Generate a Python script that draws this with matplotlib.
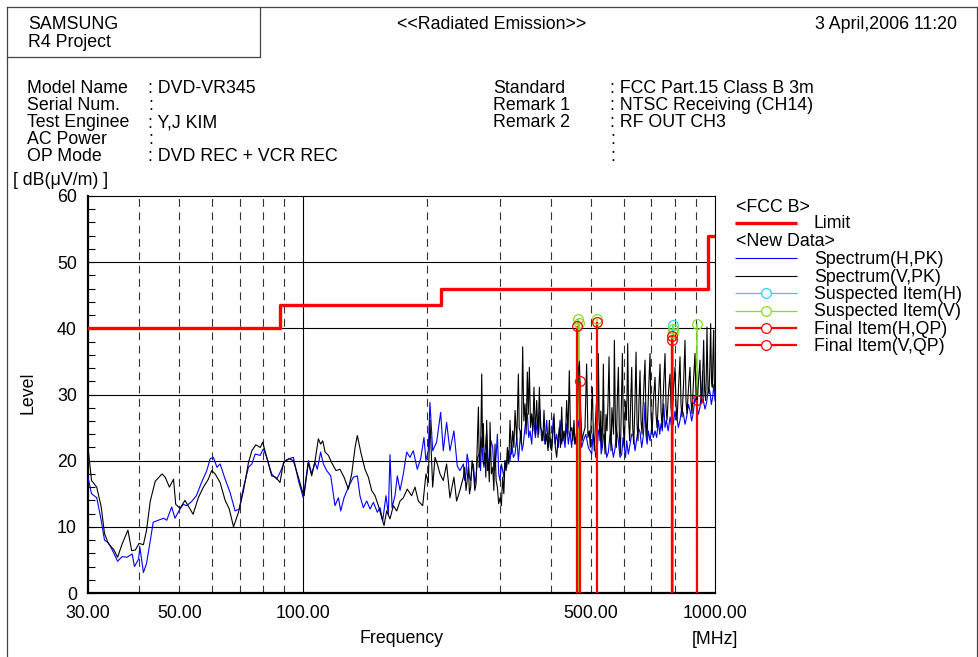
import numpy as np
import matplotlib.pyplot as plt
from matplotlib.ticker import NullLocator

plt.rcParams['font.family'] = ['Liberation Sans', 'DejaVu Sans']

# limit line (FCC class B, 3 m)
limit_freq = [30, 88, 216, 960, 1000]
limit_level = [40, 43.5, 46, 54, 54]

# horizontal polarisation, peak detector
h_freq = [30.0, 30.6, 31.5, 32.3, 32.9, 33.6, 34.3, 35.4, 36.3, 37.3, 38.4, 38.9, 39.8, 40.1,
          40.9, 41.6, 42.5, 43.2, 44.5, 45.8, 46.6, 47.9, 48.8, 50.2, 51.1, 52.1, 53.5, 55.0,
          56.6, 58.3, 59.4, 60.5, 61.7, 62.8, 64.6, 66.4, 68.3, 69.9, 71.6, 73.6, 75.0, 76.4,
          78.6, 80.0, 81.5, 83.8, 86.2, 87.8, 90.3, 92.4, 94.6, 97.3, 100.0,
          100.4, 102.9, 104.8, 106.8, 108.2, 110.2, 111.9, 114.0, 116.6, 119.4, 121.7, 123.3,
          125.6, 128.7, 132.3, 135.3, 137.3, 139.9, 142.6, 145.3, 148.0, 151.3, 153.6, 155.9,
          158.8, 160.9, 162.4, 164.3, 167.0, 169.2, 171.8, 175.0, 178.3, 181.6, 185.0, 189.2,
          192.8, 196.4, 198.6, 201.2, 203.1, 206.2, 210.8, 215.6, 218.8, 222.9, 227.1, 232.2,
          236.6, 240.1,
          244.8, 246.5, 248.5, 250.0, 251.7, 253.3, 255.0, 257.0, 258.9, 261.0, 262.8, 265.0,
          267.7, 269.5, 271.3, 273.0, 274.8, 276.8, 278.9, 281.0, 283.1, 285.8, 288.5, 290.3,
          292.2, 294.2, 296.1, 298.3, 300.5, 302.8, 305.0, 307.0, 309.0, 312.0, 314.9, 317.8,
          320.8, 323.8, 326.8, 330.0, 333.0, 335.0, 337.3, 340.0, 342.4, 346.2, 350.1, 352.8,
          355.4, 358.8, 362.1, 366.2, 370.3, 373.0, 375.8, 379.3, 382.9, 386.5, 390.1, 393.7,
          397.4, 401.2, 404.9, 408.7, 412.5, 416.4, 420.3, 424.2, 428.2, 432.2, 436.2, 440.3,
          444.4, 448.5, 452.7, 457.0, 461.3, 465.6, 469.9, 474.3, 478.8, 485.6, 492.4,
          501.8, 505.5, 509.3, 513.1, 517.0, 521.3, 525.7, 529.1, 532.6, 536.6, 540.6, 545.7,
          550.9, 556.0, 561.2, 566.4, 571.7, 577.1, 582.5, 588.0, 593.5, 598.0, 602.4, 606.3,
          610.3, 616.0, 621.8, 627.6, 633.5, 639.4, 645.4, 651.4, 657.5, 663.7, 669.9, 673.0,
          676.2, 679.5, 684.2, 688.9, 695.4, 701.9, 708.5, 715.1, 721.8, 728.5, 734.0, 739.5,
          745.0, 750.6, 756.2, 761.8, 769.7, 777.6, 784.9, 792.2, 799.6, 807.1, 814.7, 822.3,
          830.0, 837.8, 845.6, 853.5, 861.5, 869.5, 877.7, 885.9, 894.2, 902.5, 911.0, 919.5,
          928.1, 933.0, 936.7, 945.5, 954.4, 963.4, 972.4, 979.7, 987.0, 993.5, 1000.0]
h_level = [17.5, 15.0, 14.4, 11.0, 8.0, 7.6, 6.6, 4.8, 5.5, 5.4, 5.9, 4.0, 5.1, 6.9,
           3.1, 4.4, 7.9, 10.7, 11.0, 11.3, 11.0, 13.0, 11.3, 12.7, 13.4, 13.2, 13.8, 14.7,
           16.7, 18.5, 20.3, 20.5, 19.0, 19.5, 17.2, 15.2, 12.4, 12.7, 16.0, 19.0, 19.5, 21.0,
           20.8, 21.8, 20.5, 18.0, 17.2, 18.2, 20.0, 20.3, 20.5, 17.0, 14.4,
           15.2, 20.0, 18.0, 19.7, 18.7, 21.3, 19.5, 18.5, 17.7, 13.2, 14.4, 12.4,
           14.4, 16.0, 17.5, 17.7, 14.7, 12.9, 13.9, 12.7, 13.7, 12.2, 12.9, 10.9,
           14.7, 11.9, 20.9, 12.9, 14.7, 17.7, 15.5, 18.0, 21.3, 20.5, 21.5, 18.7,
           20.3, 23.5, 20.0, 21.5, 28.8, 21.5, 22.8, 27.3, 21.5, 25.8, 21.5, 24.5,
           19.2, 18.5,
           19.5, 17.0, 18.0, 21.0, 20.0, 17.5, 17.0, 19.0, 19.5, 16.5, 17.5, 20.5,
           21.0, 18.5, 23.5, 20.0, 19.0, 22.0, 24.5, 20.5, 19.5, 23.0, 22.0, 18.5,
           19.0, 21.0, 24.0, 18.0, 17.0, 19.5, 18.5, 17.5, 20.0, 19.0, 21.5, 20.0,
           22.5, 20.5, 21.0, 23.5, 20.0, 22.0, 24.5, 21.5, 22.5, 25.5, 27.1, 23.5,
           24.5, 22.5, 26.6, 23.5, 26.1, 24.0, 27.6, 23.0, 24.5, 22.5, 26.1, 22.0,
           23.5, 22.0, 26.6, 22.5, 24.0, 22.0, 26.1, 22.5, 24.0, 22.0, 25.6, 22.5,
           24.5, 22.0, 25.0, 22.5, 23.5, 26.0, 24.5, 22.0, 23.0, 24.0, 22.0,
           21.0, 24.0, 23.0, 20.5, 21.5, 24.5, 25.0, 21.0, 22.0, 24.0, 23.0, 20.5,
           21.3, 24.0, 22.5, 20.5, 21.8, 24.5, 23.0, 20.5, 21.0, 23.5, 22.0, 20.5,
           23.0, 21.0, 22.5, 24.0, 23.8, 21.5, 23.3, 25.0, 24.3, 22.0, 23.8, 26.0,
           28.8, 24.0, 22.5, 24.5, 23.0, 25.0, 23.5, 24.5, 23.5, 26.1, 24.0, 25.6,
           24.5, 28.6, 25.0, 26.1, 24.5, 26.6, 25.0, 25.6, 27.5, 26.6, 25.0, 26.1,
           27.8, 27.1, 25.5, 26.6, 28.5, 27.6, 26.0, 27.3, 29.5, 28.6, 27.0, 28.1,
           30.5, 33.5, 29.1, 27.8, 28.8, 31.0, 30.4, 28.5, 29.6, 31.5, 29.1]

# vertical polarisation, peak detector
v_freq = [30.0, 30.6, 31.5, 32.3, 32.9, 33.6, 34.6, 35.4, 36.3, 37.5, 38.3, 39.1, 39.9, 40.9,
          41.6, 42.5, 43.7, 45.4, 46.2, 47.3, 48.4, 49.0, 50.2, 51.6, 52.5, 54.0, 55.6, 57.2,
          58.8, 59.9, 61.1, 62.8, 64.6, 66.1, 67.7, 69.6, 71.6, 73.6, 75.0, 76.7, 78.6, 79.7,
          81.5, 83.8, 85.7, 87.8, 89.5, 92.4, 94.6, 97.3, 100.0,
          100.4, 102.9, 104.8, 106.8, 108.8, 110.2, 111.5, 113.0, 115.1, 117.2, 120.1, 122.8,
          125.6, 128.7, 131.1, 133.6, 135.3, 137.9, 141.2, 143.9, 146.6, 149.4, 152.2, 155.0,
          157.1, 159.4, 162.4, 165.5, 168.6, 171.8, 175.0, 178.9, 183.3, 186.8, 190.3, 195.0,
          198.6, 201.2, 203.1, 206.2, 208.9, 211.6, 214.8, 218.8, 222.9, 227.1, 232.2, 235.7,
          240.1,
          244.8, 246.5, 248.5, 250.0, 251.7, 253.3, 255.0, 257.0, 258.9, 261.0, 262.8, 264.5,
          266.3, 267.5, 268.7, 270.0, 271.3, 272.5, 273.8, 275.0, 276.3, 277.6, 278.9, 280.2,
          281.6, 283.0, 284.2, 286.3, 288.5, 290.3, 292.2, 294.0, 296.1, 298.2, 300.5, 302.8,
          305.0, 307.0, 309.0, 311.0, 313.1, 315.5, 317.8, 320.2, 322.6, 324.7, 326.8, 330.0,
          333.0, 334.5, 336.1, 338.5, 341.1, 343.3, 345.6, 347.8, 350.1, 352.0, 354.1, 356.4,
          358.7, 361.0, 363.4, 366.0, 368.9, 371.7, 374.5, 377.0, 379.4, 381.8, 384.3, 387.2,
          390.1, 393.0, 396.0, 398.6, 401.2, 403.8, 406.4, 409.5, 412.5, 415.6, 418.7, 421.5,
          424.2, 427.0, 429.8, 433.0, 436.2, 439.5, 442.7, 445.6, 448.6, 451.5, 454.4, 457.0,
          459.6, 462.5, 465.6, 468.6, 471.7, 475.2, 478.8, 483.3, 487.8, 491.4, 495.1,
          498.0, 500.8, 503.6, 506.4, 509.3, 512.2, 515.1, 518.0, 520.8, 523.2, 525.7, 528.1,
          530.6, 533.1, 535.6, 538.1, 540.6, 543.6, 546.7, 549.8, 552.9, 556.0, 559.2, 561.8,
          564.4, 567.0, 569.6, 572.8, 576.0, 579.2, 582.5, 585.7, 589.0, 592.3, 595.7, 599.0,
          602.4, 605.8, 609.2, 611.5, 613.7, 617.1, 620.6, 624.1, 627.7, 631.2, 634.7, 638.8,
          643.0, 646.6, 650.2, 653.8, 657.5, 661.2, 664.9, 670.5, 676.2, 680.0, 683.8, 689.6,
          695.4, 699.3, 703.2, 709.1, 715.1, 719.1, 723.2, 729.3, 735.4, 739.5, 743.7, 750.0,
          756.2, 760.4, 764.7, 771.1, 777.6, 782.0, 786.4, 793.0, 799.6, 804.1, 808.6, 815.4,
          822.3, 826.9, 831.6, 838.6, 845.6, 850.3, 855.1, 862.3, 869.5, 874.4, 879.3, 886.7,
          894.1, 899.1, 904.2, 911.8, 919.5, 923.8, 928.1, 933.3, 938.5, 943.8, 949.1, 952.6,
          956.2, 961.5, 966.9, 971.4, 976.0, 980.6, 985.2, 988.8, 992.5, 996.2, 1000.0]
v_level = [22.0, 17.0, 16.0, 13.0, 9.0, 7.5, 6.6, 5.4, 7.4, 9.5, 6.4, 6.5, 7.5, 7.3,
           9.4, 13.9, 16.9, 18.0, 17.5, 16.0, 17.2, 13.4, 12.8, 14.0, 13.2, 11.9, 14.4, 16.0,
           17.2, 18.5, 18.0, 16.7, 14.0, 12.7, 10.0, 12.2, 15.5, 19.7, 21.5, 22.4, 22.0, 22.8,
           20.5, 17.7, 17.5, 16.7, 19.7, 20.3, 20.0, 17.5, 14.9,
           14.7, 19.7, 17.7, 20.0, 23.3, 22.5, 23.0, 21.3, 20.8, 19.7, 18.5, 18.7,
           17.5, 15.7, 18.0, 22.0, 23.8, 21.3, 18.7, 17.5, 15.5, 14.7, 13.2, 11.4,
           10.2, 12.4, 11.2, 13.2, 12.4, 13.9, 14.4, 15.7, 14.7, 16.0, 13.9, 13.2,
           18.0, 16.7, 26.1, 16.0, 20.5, 19.5, 18.0, 17.0, 19.5, 14.4, 17.5, 13.9,
           15.5,
           17.5, 19.0, 15.5, 17.0, 19.1, 15.0, 16.0, 20.0, 18.6, 15.5, 16.5, 22.0,
           28.1, 19.0, 20.5, 24.0, 33.1, 22.0, 25.6, 19.5, 21.1, 17.5, 26.1, 18.5,
           20.0, 16.8, 25.8, 18.0, 19.0, 15.5, 22.5, 17.0, 16.0, 13.5, 14.4, 13.2,
           17.5, 15.0, 20.0, 18.5, 22.0, 19.5, 26.1, 21.0, 24.5, 22.0, 27.6, 23.0,
           33.1, 25.0, 24.5, 22.5, 37.2, 26.0, 28.6, 24.0, 33.4, 27.0, 34.1, 25.0,
           27.1, 24.5, 31.1, 24.0, 29.1, 23.5, 31.1, 25.0, 24.5, 23.0, 27.6, 22.5,
           24.0, 21.5, 26.1, 22.0, 21.5, 24.0, 27.1, 22.0, 20.5, 23.0, 25.0, 22.0,
           28.1, 23.0, 24.5, 23.0, 29.1, 24.0, 33.6, 24.5, 25.0, 23.0, 26.1, 22.5,
           23.5, 25.0, 33.6, 35.0, 27.6, 23.0, 24.0, 25.0, 34.6, 23.5, 24.5,
           22.0, 27.0, 31.1, 24.0, 21.5, 25.5, 28.6, 23.5, 36.2, 26.0, 23.0, 27.5,
           22.0, 25.0, 34.6, 24.0, 21.0, 27.0, 24.5, 29.0, 35.7, 25.0, 21.5, 28.0,
           26.1, 24.0, 38.2, 26.0, 22.0, 29.5, 34.1, 24.0, 21.0, 28.0, 36.2, 25.0,
           22.0, 29.0, 26.1, 30.0, 37.7, 26.0, 23.0, 29.0, 34.1, 25.0, 22.5, 28.0,
           36.4, 25.5, 23.0, 29.0, 33.6, 26.0, 24.0, 30.0, 35.2, 26.0, 23.5, 30.5,
           36.2, 27.0, 24.0, 29.5, 32.6, 27.0, 25.0, 30.0, 34.6, 27.5, 25.0, 31.0,
           36.2, 28.0, 26.1, 30.5, 33.1, 28.0, 26.6, 31.0, 34.1, 28.5, 26.1, 31.0,
           35.7, 28.5, 26.6, 31.5, 38.2, 29.0, 27.1, 31.0, 34.1, 29.0, 27.1, 32.0,
           36.2, 30.0, 28.1, 32.0, 35.2, 30.0, 28.6, 32.5, 38.2, 30.5, 29.1, 33.0,
           40.2, 31.0, 30.1, 34.0, 40.7, 32.0, 31.1, 36.0, 39.7, 32.0, 30.6]

# suspected and final (quasi-peak) items
susp_h_freq = [789]
susp_h_level = [40.5]
susp_v_freq = [464, 468, 516, 789, 789, 904]
susp_v_level = [41.4, 40.85, 41.4, 39.85, 39.25, 40.6]
final_h_freq = [788, 904]
final_h_level = [38.8, 29.1]
final_v_freq = [461, 471, 516, 788]
final_v_level = [40.3, 32.0, 40.9, 38.2]

minor_grid = [40, 50, 60, 70, 80, 90, 200, 300, 400, 500, 600, 700, 800, 900]
xtick_vals = [30, 50, 100, 500, 1000]
xtick_text = ['30.00', '50.00', '100.00', '500.00', '1000.00']

C_CYAN = '#30d0f0'
C_GREEN = '#88dd22'
FS = 12.8

W, H = 979, 657
fig = plt.figure(figsize=(W / 100, H / 100), dpi=100)

# overlay in pixel units for the report frame, header and legend
ov = fig.add_axes([0, 0, 1, 1])
ov.set_xlim(0, W)
ov.set_ylim(H, 0)
ov.axis('off')

frame_kw = dict(color='#444444', lw=0.9)
ov.plot([7, 7], [7, H + 5], **frame_kw)
ov.plot([7, 977], [7, 7], **frame_kw)
ov.plot([977, 977], [7, H + 5], **frame_kw)
ov.plot([7, 260, 260], [57, 57, 7], **frame_kw)

def txt(x, y, s, **kw):
    ov.text(x, y, s, fontsize=FS, va='baseline', **kw)

txt(28, 29, 'SAMSUNG')
txt(28, 47, 'R4 Project')
txt(492, 29, '<<Radiated Emission>>', ha='center')
txt(957, 29, '3 April,2006 11:20', ha='right')

left_rows = [('Model Name', ': DVD-VR345'), ('Serial Num.', ':'), ('Test Enginee', ': Y,J KIM'),
             ('AC Power', ':'), ('OP Mode', ': DVD REC + VCR REC')]
right_rows = [('Standard', ': FCC Part.15 Class B 3m'), ('Remark 1', ': NTSC Receiving (CH14)'),
              ('Remark 2', ': RF OUT CH3'), ('', ':'), ('', ':')]
for i, ((l1, v1), (l2, v2)) in enumerate(zip(left_rows, right_rows)):
    yb = 93 + 17 * i
    txt(27, yb, l1)
    txt(148, yb, v1)
    txt(493, yb, l2)
    txt(610, yb, v2)

txt(13, 185, '[ dB(\u03bcV/m) ]')
txt(402, 643, 'Frequency', ha='center')
txt(715, 644, '[MHz]', ha='center')
ov.text(28, 393, 'Level', fontsize=FS, rotation=90, ha='center', va='center')

# legend
txt(736, 212, '<FCC B>')
txt(736, 246.5, '<New Data>')
legend_rows = [
    (228.5, 'Limit', 'red', 2.4, None),
    (264, 'Spectrum(H,PK)', 'blue', 0.8, None),
    (281.5, 'Spectrum(V,PK)', 'black', 0.8, None),
    (299, 'Suspected Item(H)', C_CYAN, 0.9, 'o'),
    (316.5, 'Suspected Item(V)', C_GREEN, 0.9, 'o'),
    (334, 'Final Item(H,QP)', 'red', 1.6, 'o'),
    (351, 'Final Item(V,QP)', 'red', 1.6, 'o'),
]
for yb, label, col, lw, mk in legend_rows:
    yl = yb - 6
    ov.plot([735, 797], [yl, yl], color=col, lw=lw, solid_capstyle='butt')
    if mk:
        ov.plot([766], [yl], mk, mfc='white', mec=col, ms=7, mew=0.9)
    txt(814, yb, label)

# main plot
ax = fig.add_axes([88 / W, 1 - 593 / H, (715 - 88) / W, (593 - 196) / H])
ax.set_xscale('log')
ax.set_xlim(30, 1000)
ax.set_ylim(0, 60)

for f in minor_grid:
    ax.axvline(f, color='#333333', lw=0.8, ls=(0, (7, 5)), zorder=1)
ax.axvline(100, color='black', lw=0.8, zorder=1)
for lv in range(10, 60, 10):
    ax.axhline(lv, color='black', lw=0.8, zorder=1)

ax.step(limit_freq, limit_level, where='post', color='red', lw=2.4, zorder=3)

ax.vlines(susp_h_freq, 0, susp_h_level, color=C_CYAN, lw=1.2, zorder=2)
ax.vlines(susp_v_freq, 0, susp_v_level, color=C_GREEN, lw=1.2, zorder=2)

ax.plot(h_freq, h_level, color='blue', lw=0.8, zorder=4)
ax.plot(v_freq, v_level, color='black', lw=0.8, zorder=4)

ax.vlines(final_h_freq, 0, final_h_level, color='red', lw=1.6, zorder=5)
ax.vlines(final_v_freq, 0, final_v_level, color='red', lw=1.6, zorder=5)

mk = dict(ls='none', marker='o', mfc='none', ms=7, mew=0.9, zorder=6)
ax.plot(susp_h_freq, susp_h_level, mec=C_CYAN, **mk)
ax.plot(susp_v_freq, susp_v_level, mec=C_GREEN, **mk)
ax.plot(final_h_freq, final_h_level, mec='red', **mk)
ax.plot(final_v_freq, final_v_level, mec='red', **mk)

ax.set_xticks(xtick_vals)
ax.set_xticklabels(xtick_text)
ax.xaxis.set_minor_locator(NullLocator())
ax.tick_params(axis='x', which='both', length=0, labelsize=FS, pad=9)

ax.set_yticks(range(0, 61, 10))
ax.set_yticks(range(0, 61, 2), minor=True)
ax.tick_params(axis='y', which='both', direction='in', length=5, width=0.8,
               labelsize=FS, pad=8)

ax.spines['left'].set_linewidth(1.6)
ax.spines['bottom'].set_linewidth(1.6)
ax.spines['top'].set_linewidth(0.8)
ax.spines['right'].set_linewidth(0.8)

fig.savefig('out.png', dpi=100)
